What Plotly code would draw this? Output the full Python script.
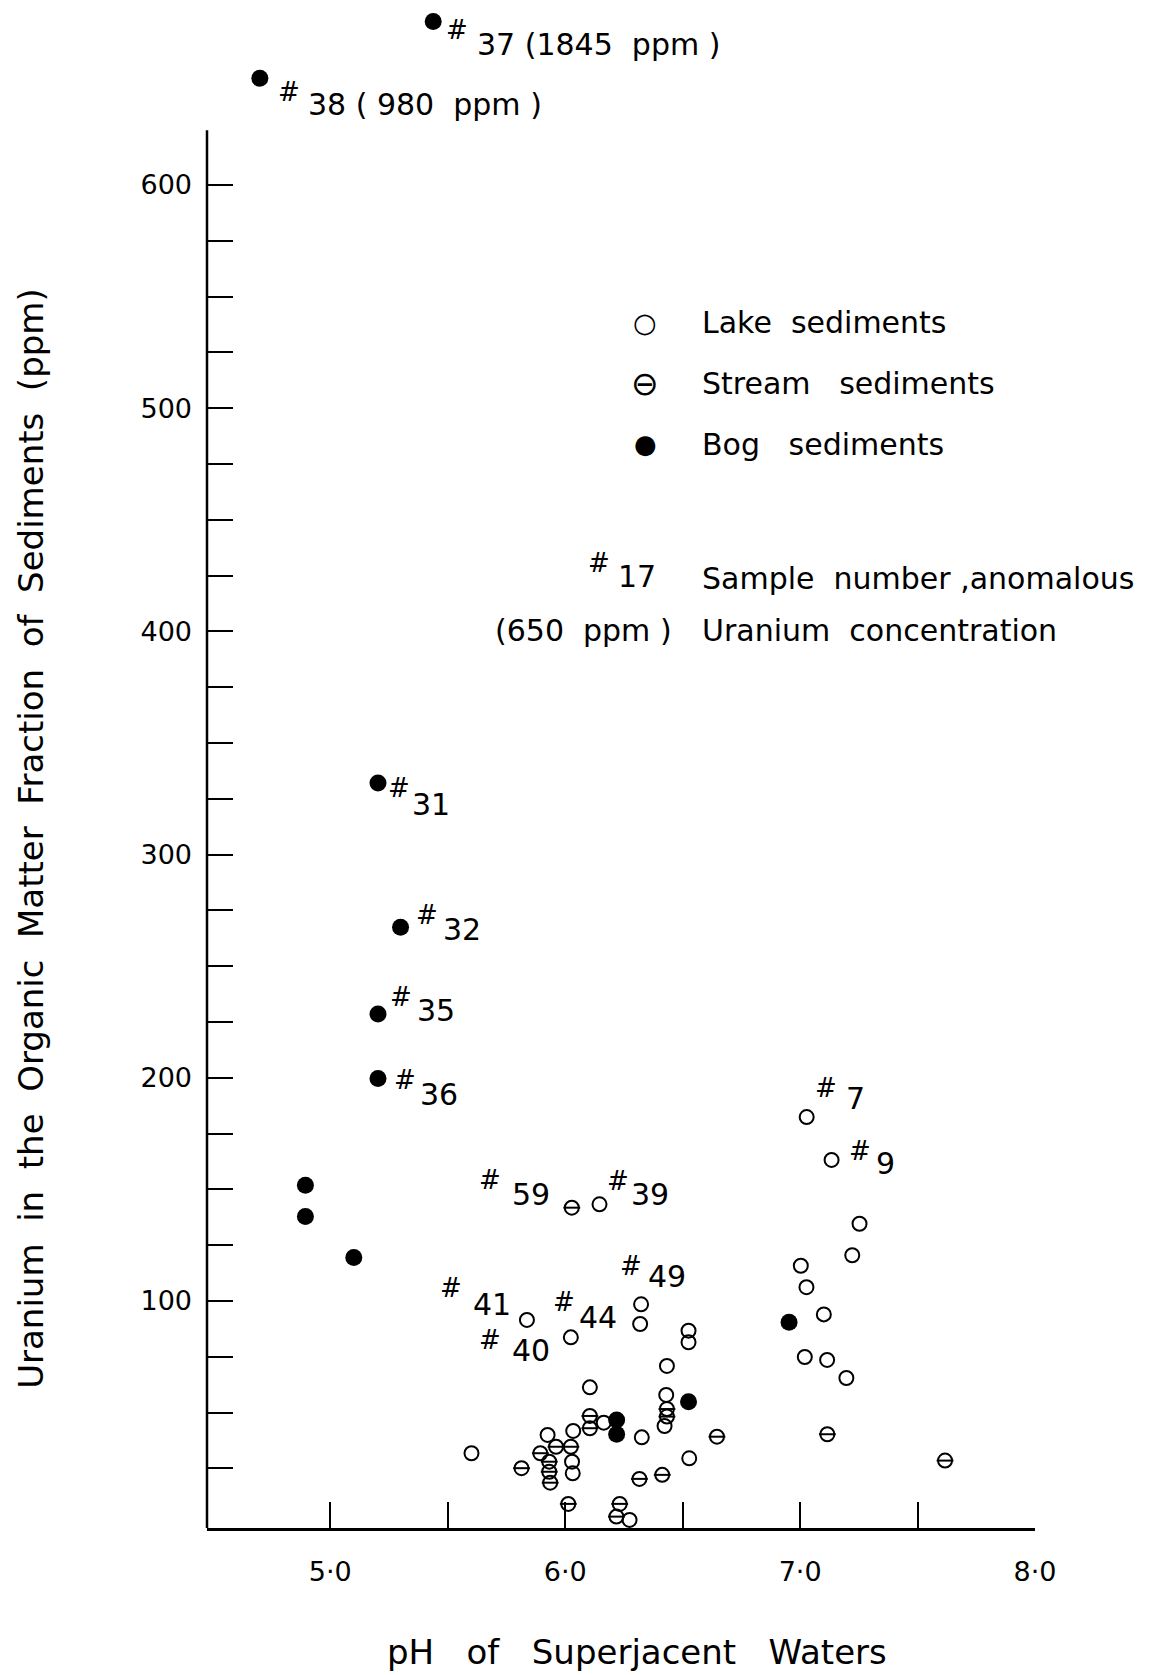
import plotly.graph_objects as go

FONT = "DejaVu Sans"
NB = "\u00a0"

# ---------------- data (pH, U ppm) ----------------
lake_ph = [7.028, 7.134, 7.253, 7.222, 7.003, 7.027, 7.101, 7.020, 7.115, 7.197,
           6.146, 6.323, 6.319, 6.525, 6.525, 6.433, 6.430, 6.423, 6.528, 6.326,
           6.274, 6.164, 6.105, 6.024, 5.837, 6.034, 6.029, 6.032, 5.925, 5.601]
lake_u = [182.4, 163.2, 134.6, 120.5, 115.8, 106.2, 94.0, 74.9, 73.6, 65.5,
          143.3, 98.5, 89.7, 86.7, 81.5, 70.9, 57.9, 44.0, 29.5, 38.9,
          1.9, 45.5, 61.3, 83.7, 91.5, 41.8, 28.0, 22.8, 40.0, 31.8]

stream_ph = [6.028, 7.116, 7.617, 6.646, 6.433, 6.433, 6.105, 6.105, 6.316, 6.413,
             6.232, 6.218, 6.013, 5.961, 6.024, 5.894, 5.932, 5.932, 5.936, 5.814]
stream_u = [141.8, 40.3, 28.5, 39.2, 51.6, 48.2, 48.5, 43.0, 20.3, 22.1,
            9.1, 3.4, 9.1, 34.7, 34.7, 31.8, 28.0, 23.5, 18.6, 25.1]

# the first two bog samples are off scale (1845 and 980 ppm); they are drawn
# above the top of the axis at the positions
bog_ph = [5.438, 4.700, 5.203, 5.299, 5.203, 5.203, 4.894, 4.894, 5.100, 6.953,
          6.525, 6.219, 6.219]
bog_u = [673.2, 647.8, 332.1, 267.4, 228.6, 199.7, 151.9, 137.8, 119.5, 90.5,
         54.9, 46.7, 40.3]

# tick labels
x_major = [5.0, 6.0, 7.0, 8.0]
x_labels = ["5·0", "6·0", "7·0", "8·0"]
x_minor = [5.5, 6.5, 7.5]
y_major = [100, 200, 300, 400, 500, 600]
y_labels = ["100", "200", "300", "400", "500", "600"]
y_minor = [v for v in range(25, 625, 25) if v % 100]
Y_AXIS_TOP = 624.5

# anomalous sample labels
sample_numbers = ["37 (1845  ppm )", "38 ( 980  ppm )", "31", "32", "35", "36",
                  "7", "9", "59", "39", "49", "41", "44", "40"]
# placement of the "#" mark (centre) and of the number (left edge)
hash_pos = [(5.538, 669.3), (4.823, 641.6), (5.292, 329.7), (5.413, 272.8),
            (5.299, 236.4), (5.320, 199.1), (7.112, 195.3), (7.254, 167.0),
            (5.680, 154.1), (6.223, 153.9), (6.280, 115.7), (5.512, 105.7),
            (5.996, 99.7), (5.680, 82.5)]
num_pos = [(5.615, 663.1), (4.895, 635.9), (5.340, 322.5), (5.470, 266.6),
           (5.360, 230.0), (5.375, 192.4), (7.185, 190.5), (7.313, 161.8),
           (5.765, 147.9), (6.270, 147.9), (6.346, 111.1), (5.600, 98.6),
           (6.050, 92.4), (5.763, 77.6)]

legend_glyphs = ["○", "⊖", "●"]
glyph_sizes = [27, 33, 26]
legend_names = ["Lake  sediments", "Stream   sediments", "Bog   sediments"]
legend_y = [538.3, 511.0, 483.8]

fig = go.Figure()

fig.add_trace(go.Scatter(
    x=lake_ph, y=lake_u, mode="markers", name="Lake sediments",
    marker=dict(symbol="circle-open", size=14, color="black", line=dict(width=2, color="black")),
))
fig.add_trace(go.Scatter(
    x=stream_ph, y=stream_u, mode="markers", name="Stream sediments",
    marker=dict(symbol="circle-open", size=14, color="black", line=dict(width=2, color="black")),
))
fig.add_trace(go.Scatter(
    x=stream_ph, y=stream_u, mode="markers", name="Stream sediments", showlegend=False,
    marker=dict(symbol="line-ew", size=12, color="black", line=dict(width=2, color="black")),
))
fig.add_trace(go.Scatter(
    x=bog_ph, y=bog_u, mode="markers", name="Bog sediments", cliponaxis=False,
    marker=dict(symbol="circle", size=17, color="black", line=dict(width=0)),
))


def text_ann(x, y, text, size, xanchor="left", xref="x", yref="y", **kw):
    d = dict(x=x, y=y, xref=xref, yref=yref, showarrow=False, text=text,
             xanchor=xanchor, yanchor="middle",
             font=dict(family=FONT, size=size, color="black"))
    d.update(kw)
    return d


ann = []
for t, (hx, hy), (nx, ny) in zip(sample_numbers, hash_pos, num_pos):
    ann.append(text_ann(hx, hy, "#", 26, xanchor="center"))
    ann.append(text_ann(nx, ny, t.replace(" ", NB), 30))

for g, gs, n, y in zip(legend_glyphs, glyph_sizes, legend_names, legend_y):
    ann.append(text_ann(6.340, y, g, gs, xanchor="center"))
    ann.append(text_ann(6.573, y, n.replace(" ", NB), 30))

# legend note for sample labels
ann.append(text_ann(6.144, 430.6, "#", 26, xanchor="center"))
ann.append(text_ann(6.395, 424.4, "17", 30, xanchor="right"))
ann.append(text_ann(6.573, 423.5, "Sample" + NB * 2 + "number" + NB + ",anomalous", 30))
ann.append(text_ann(6.463, 400.6, "(650" + NB * 2 + "ppm" + NB + ")", 30, xanchor="right"))
ann.append(text_ann(6.573, 400.6, "Uranium" + NB * 2 + "concentration", 30))

# axis titles
ann.append(text_ann(-0.212, 0.4534,
                    (NB * 2).join(["Uranium", "in", "the", "Organic", "Matter",
                                   "Fraction", "of", "Sediments", "(ppm)"]),
                    34, xanchor="center", xref="paper", yref="paper", textangle=-90))
ann.append(text_ann(0.5195, -124 / 1521,
                    (NB * 3).join(["pH", "of", "Superjacent", "Waters"]),
                    34, xanchor="center", xref="paper", yref="paper"))

fig.update_layout(
    width=1163, height=1675,
    margin=dict(l=207, r=128, t=7, b=147),
    paper_bgcolor="white", plot_bgcolor="white",
    showlegend=False,
    annotations=ann,
    font=dict(family=FONT, color="black"),
    shapes=[dict(type="line", xref="paper", yref="y", x0=0, x1=0,
                 y0=-1.7, y1=Y_AXIS_TOP, line=dict(color="black", width=2.5))],
)
fig.update_xaxes(
    range=[4.475, 8.0], showgrid=False, zeroline=False,
    showline=True, linecolor="black", linewidth=2.5,
    ticks="inside", ticklen=26, tickwidth=2, tickcolor="black",
    tickmode="array", tickvals=x_major, ticktext=x_labels,
    minor=dict(tickmode="array", tickvals=x_minor, ticks="inside", ticklen=26,
               tickwidth=2, tickcolor="black", showgrid=False),
    tickfont=dict(family=FONT, size=27, color="black"), ticklabelstandoff=18,
)
fig.update_yaxes(
    range=[-1.7, 679.7], showgrid=False, zeroline=False,
    showline=False,
    ticks="inside", ticklen=26, tickwidth=2, tickcolor="black",
    tickmode="array", tickvals=y_major, ticktext=y_labels,
    minor=dict(tickmode="array", tickvals=y_minor, ticks="inside", ticklen=26,
               tickwidth=2, tickcolor="black", showgrid=False),
    tickfont=dict(family=FONT, size=27, color="black"), ticklabelstandoff=14,
)

fig.write_html("out.html")
